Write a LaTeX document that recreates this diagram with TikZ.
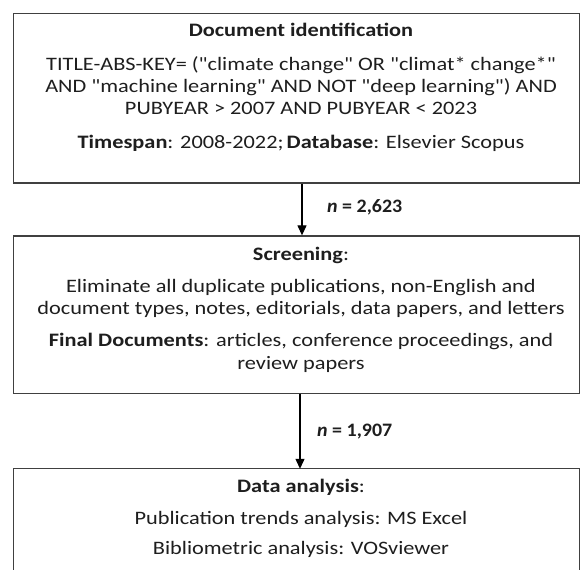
\documentclass[tikz,border=0pt]{standalone}
\usepackage{fontspec}
\newfontfamily\boxfont{Carlito}[FakeStretch=1.175]
\newfontfamily\labfont{Carlito}[FakeStretch=1.05]
\usetikzlibrary{arrows.meta}
\definecolor{txt}{HTML}{1E1E1E}
\definecolor{frame}{HTML}{404040}
\begin{document}
\begin{tikzpicture}[x=1pt,y=1pt,
  boxframe/.style={draw=frame, line width=1.3pt, inner sep=0pt, minimum width=566pt},
  txtline/.style={anchor=base, inner sep=0pt, text=txt, font=\boxfont\fontsize{19}{22.5}\selectfont},
  flow/.style={draw=black, line width=1.2pt, -{Triangle[length=10pt,width=9pt]}},
  lab/.style={anchor=base west, inner sep=0pt, text=txt, font=\labfont\fontsize{19}{22.5}\selectfont\bfseries}]
\useasboundingbox (0,0) rectangle (581,570);
\fill[white] (0,0) rectangle (581,570);
% boxes
\node[boxframe, minimum height=169.5pt] (box1) at (296.5,471.75) {};
\node[boxframe, minimum height=157.3pt] (box2) at (296.5,255.35) {};
\node[inner sep=0pt, minimum width=566pt, minimum height=121pt] (box3) at (296.5,40.5) {};
\draw[draw=frame, line width=1.3pt] (box3.south west) -- (box3.north west) -- (box3.north east) -- (box3.south east);
% box 1 text
\node[txtline] (t1a) at (301,533) {\textbf{Document identification}};
\node[txtline] (t1b) at (301,499.3) {TITLE-ABS-KEY= ("climate change" OR "climat* change*"};
\node[txtline] (t1c) at (301,477.3) {AND "machine learning" AND NOT "deep learning") AND};
\node[txtline] (t1d) at (301,455) {PUBYEAR > 2007 AND PUBYEAR < 2023};
\node[txtline] (t1e) at (301,421.7) {\textbf{Timespan}: 2008-2022;\,\textbf{Database}: Elsevier Scopus};
% box 2 text
\node[txtline] (t2a) at (301,309.3) {\textbf{Screening}:};
\node[txtline] (t2b) at (301,277.3) {Eliminate all duplicate publications, non-English and};
\node[txtline] (t2c) at (301,255) {document types, notes, editorials, data papers, and letters};
\node[txtline] (t2d) at (301,223.3) {\textbf{Final Documents}: articles, conference proceedings, and};
\node[txtline] (t2e) at (301,200.7) {review papers};
% box 3 text
\node[txtline] (t3a) at (301,77) {\textbf{Data analysis}:};
\node[txtline] (t3b) at (301,45) {Publication trends analysis: MS Excel};
\node[txtline] (t3c) at (301,15) {Bibliometric analysis: VOSviewer};
% connectors
\coordinate (ax1) at (302,0);
\coordinate (ax2) at (300,0);
\draw[flow] (box1.south -| ax1) -- (box2.north -| ax1);
\draw[flow] (box2.south -| ax2) -- (box3.north -| ax2);
\node[lab] (n1) at (327,357) {\textit{n} = 2,623};
\node[lab] (n2) at (317,133) {\textit{n} = 1,907};
\end{tikzpicture}
\end{document}
